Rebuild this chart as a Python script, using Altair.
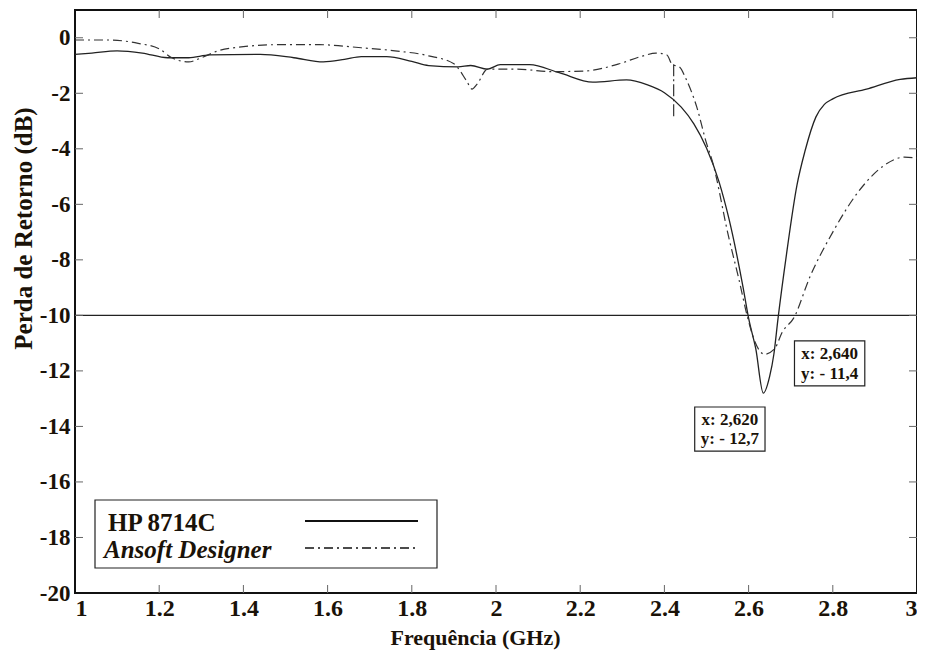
import altair as alt
import pandas as pd

# HP 8714C (measured)
hp_x = [1.00, 1.04, 1.10, 1.16, 1.22, 1.27, 1.32, 1.44, 1.52, 1.59, 1.64, 1.68, 1.74, 1.80, 1.84,
        1.91, 1.94, 1.98, 2.01, 2.08, 2.15, 2.23, 2.31, 2.36, 2.40, 2.44, 2.47, 2.50, 2.53, 2.553,
        2.587, 2.60, 2.617, 2.635, 2.65, 2.66, 2.67, 2.69, 2.715, 2.734, 2.76, 2.78, 2.80, 2.88,
        2.96, 3.00]
hp_y = [-0.6, -0.55, -0.47, -0.55, -0.72, -0.72, -0.62, -0.6, -0.72, -0.87, -0.78, -0.68, -0.68, -0.85, -1.0,
        -1.05, -1.0, -1.13, -0.97, -0.97, -1.26, -1.6, -1.52, -1.7, -1.98, -2.5, -3.1, -3.97, -5.2, -6.5,
        -9.0, -10.1, -11.2, -12.8, -12.2, -11.4, -10.1, -7.8, -5.3, -4.08, -2.85, -2.4, -2.2, -1.85,
        -1.5, -1.44]

# Ansoft Designer (simulated)
an_x = [1.00, 1.08, 1.15, 1.20, 1.23, 1.27, 1.30, 1.34, 1.40, 1.48, 1.58, 1.68, 1.76, 1.84, 1.90,
        1.93, 1.943, 1.955, 1.98, 2.05, 2.13, 2.21, 2.29, 2.35, 2.38, 2.406, 2.418,
        2.437, 2.45, 2.477, 2.50, 2.513, 2.553, 2.577, 2.598, 2.615, 2.638, 2.662, 2.68, 2.707,
        2.746, 2.80, 2.86, 2.92, 2.97, 3.00]
an_y = [-0.08, -0.08, -0.2, -0.4, -0.72, -0.87, -0.72, -0.47, -0.32, -0.25, -0.25, -0.36, -0.47, -0.65, -0.94,
        -1.55, -1.85, -1.67, -1.13, -1.13, -1.22, -1.2, -0.95, -0.65, -0.55, -0.62, -0.95,
        -1.07, -1.44, -2.5, -3.8, -4.4, -7.2, -8.7, -10.1, -10.95, -11.4, -11.2, -10.6, -10.1,
        -8.6, -7.0, -5.56, -4.62, -4.3, -4.33]
# vertical glitch in the simulated trace
glitch_x = [2.422]
glitch_y = [-0.95]
glitch_y2 = [-2.9]

x_ticks = [1.2, 1.4, 1.6, 1.8, 2.0, 2.2, 2.4, 2.6, 2.8]
y_ticks = [0, -2, -4, -6, -8, -10, -12, -14, -16, -18]
x_labels = [1, 1.2, 1.4, 1.6, 1.8, 2, 2.2, 2.4, 2.6, 2.8, 3]
y_labels = [0, -2, -4, -6, -8, -10, -12, -14, -16, -18, -20]
ref_level = [-10]

ann_x = [2.709, 2.472]
ann_x2 = [2.876, 2.639]
ann_y = [-10.92, -13.3]
ann_y2 = [-12.54, -14.89]
ann_l1 = ["x: 2,640", "x: 2,620"]
ann_l2 = ["y: - 11,4", "y: - 12,7"]

leg_names = ["HP 8714C", "Ansoft Designer"]

W, H = 842, 583
FONT = "Liberation Serif"
TXT = "#1a1208"
DASH = [9, 4, 2, 4]

hp = pd.DataFrame({"x": hp_x, "y": hp_y})
an = pd.DataFrame({"x": an_x, "y": an_y})

xs = alt.Scale(domain=[1, 3], nice=False, zero=False)
ys = alt.Scale(domain=[-20, 1], nice=False, zero=False)

LBL = "'' + datum.value"
base_x = alt.X("x:Q", scale=xs,
               axis=alt.Axis(values=x_labels, labelExpr=LBL,
                             title="Frequência (GHz)", ticks=False, domain=False, grid=False,
                             labelFont=FONT, labelFontSize=24, labelFontWeight="bold", labelColor=TXT,
                             labelPadding=3, titleFont=FONT, titleFontSize=22, titleFontWeight="bold",
                             titleColor=TXT, titleX=400, titleY=34, labelFlush=True))
base_y = alt.Y("y:Q", scale=ys,
               axis=alt.Axis(values=y_labels, labelExpr=LBL,
                             title="Perda de Retorno (dB)", ticks=False, domain=False, grid=False,
                             labelFont=FONT, labelFontSize=23, labelFontWeight="bold", labelColor=TXT,
                             labelPadding=5, titleFont=FONT, titleFontSize=25, titleFontWeight="bold",
                             titleColor=TXT, titleY=218, titlePadding=3))

hp_line = alt.Chart(hp).mark_line(color="#222", strokeWidth=1.3, interpolate="monotone").encode(
    x=base_x, y=base_y)
an_line = alt.Chart(an).mark_line(color="#333", strokeWidth=1.2, strokeDash=DASH,
                                  interpolate="monotone").encode(
    x=alt.X("x:Q", scale=xs), y=alt.Y("y:Q", scale=ys))
glitch = alt.Chart(pd.DataFrame({"x": glitch_x, "y": glitch_y, "y2": glitch_y2})).mark_rule(
    color="#333", strokeWidth=1.2, strokeDash=[12, 3, 2, 3]).encode(
    x=alt.X("x:Q", scale=xs), y=alt.Y("y:Q", scale=ys), y2="y2:Q")

ref = alt.Chart(pd.DataFrame({"y": ref_level})).mark_rule(color="#222", strokeWidth=1.3).encode(
    y=alt.Y("y:Q", scale=ys), x=alt.value(0), x2=alt.value(W))

xt = pd.DataFrame({"x": x_ticks})
yt = pd.DataFrame({"y": y_ticks})
TK = "#666"
tick_b = alt.Chart(xt).mark_rule(color=TK, strokeWidth=1).encode(
    x=alt.X("x:Q", scale=xs), y=alt.value(H), y2=alt.value(H - 8))
tick_t = alt.Chart(xt).mark_rule(color=TK, strokeWidth=1).encode(
    x=alt.X("x:Q", scale=xs), y=alt.value(0), y2=alt.value(8))
tick_l = alt.Chart(yt).mark_rule(color=TK, strokeWidth=1).encode(
    y=alt.Y("y:Q", scale=ys), x=alt.value(0), x2=alt.value(8))
tick_r = alt.Chart(yt).mark_rule(color=TK, strokeWidth=1).encode(
    y=alt.Y("y:Q", scale=ys), x=alt.value(W), x2=alt.value(W - 8))

ann = pd.DataFrame({"x": ann_x, "x2": ann_x2, "y": ann_y, "y2": ann_y2, "l1": ann_l1, "l2": ann_l2})
ann["xc"] = (ann["x"] + ann["x2"]) / 2
ann["y1t"] = ann["y"] + (ann["y2"] - ann["y"]) * 0.29
ann["y2t"] = ann["y"] + (ann["y2"] - ann["y"]) * 0.73
ann_box = alt.Chart(ann).mark_rect(fill="white", stroke="#222", strokeWidth=1.2).encode(
    x=alt.X("x:Q", scale=xs), x2="x2:Q", y=alt.Y("y:Q", scale=ys), y2="y2:Q")
ann_t1 = alt.Chart(ann).mark_text(font=FONT, fontSize=17, fontWeight="bold", color=TXT).encode(
    x=alt.X("xc:Q", scale=xs), y=alt.Y("y1t:Q", scale=ys), text="l1:N")
ann_t2 = alt.Chart(ann).mark_text(font=FONT, fontSize=17, fontWeight="bold", color=TXT).encode(
    x=alt.X("xc:Q", scale=xs), y=alt.Y("y2t:Q", scale=ys), text="l2:N")

# legend
leg_df = pd.DataFrame({"n": [0]})
leg_box = alt.Chart(leg_df).mark_rect(fill="white", stroke="#222", strokeWidth=1.2).encode(
    x=alt.value(20), x2=alt.value(362), y=alt.value(490), y2=alt.value(558))
leg_t1 = alt.Chart(leg_df).mark_text(font=FONT, fontSize=25, fontWeight="bold", color=TXT,
                                     align="left", baseline="middle", text=leg_names[0]).encode(
    x=alt.value(33), y=alt.value(513))
leg_t2 = alt.Chart(leg_df).mark_text(font=FONT, fontSize=25, fontWeight="bold", fontStyle="italic",
                                     color=TXT, align="left", baseline="middle", text=leg_names[1]).encode(
    x=alt.value(29), y=alt.value(540))
leg_l1 = alt.Chart(leg_df).mark_rule(color="#111", strokeWidth=2.2).encode(
    x=alt.value(230), x2=alt.value(343), y=alt.value(511))
leg_l2 = alt.Chart(leg_df).mark_rule(color="#111", strokeWidth=1.5, strokeDash=DASH).encode(
    x=alt.value(230), x2=alt.value(343), y=alt.value(538))

chart = alt.layer(
    ref, hp_line, an_line, glitch, tick_b, tick_t, tick_l, tick_r,
    ann_box, ann_t1, ann_t2, leg_box, leg_t1, leg_t2, leg_l1, leg_l2
).properties(
    width=W, height=H, autosize="none",
    padding={"left": 67, "top": 2, "right": 0, "bottom": 57},
    background="white"
).configure_view(stroke="#111", strokeWidth=2)

chart.save("out.html", embed_options={"renderer": "svg", "actions": False})
